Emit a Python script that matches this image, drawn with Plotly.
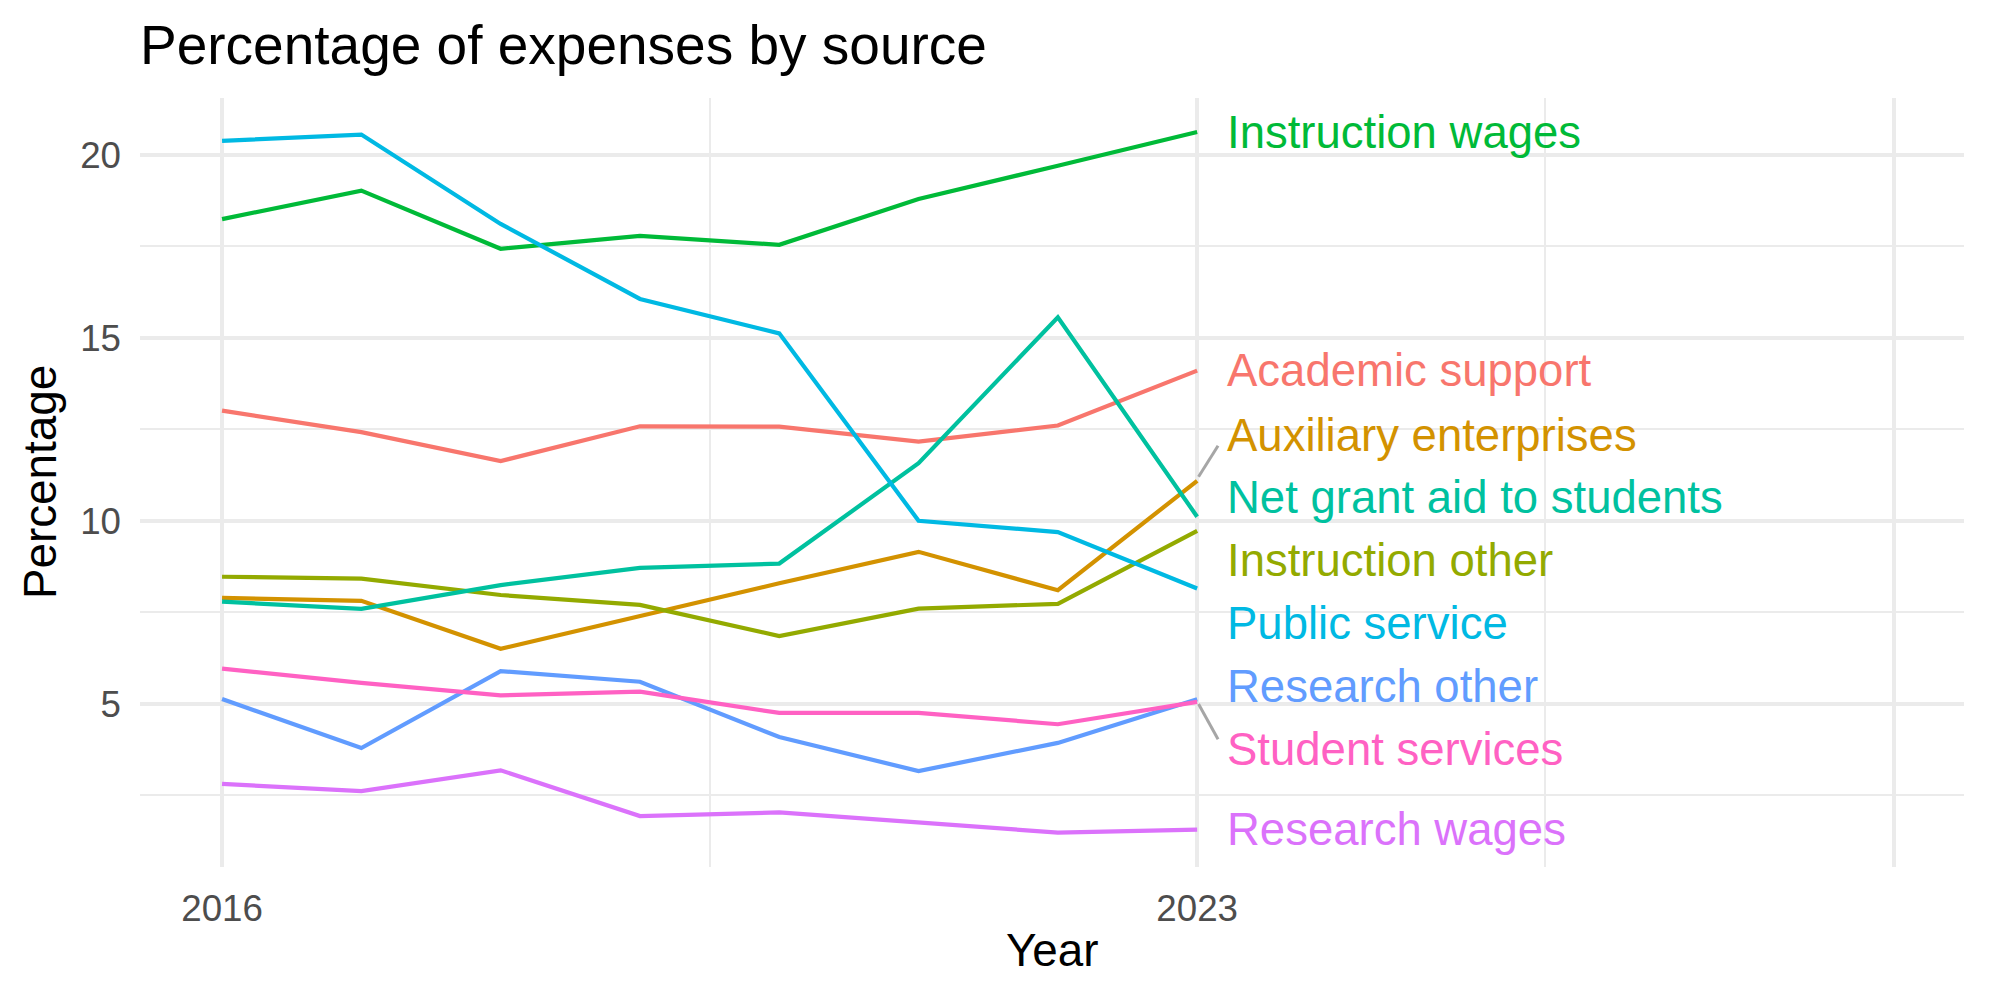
import plotly.graph_objects as go

years = [2016, 2017, 2018, 2019, 2020, 2021, 2022, 2023]

academic_support = [13.01, 12.42, 11.63, 12.58, 12.57, 12.16, 12.60, 14.10]
auxiliary_enterprises = [7.89, 7.81, 6.50, 7.40, 8.29, 9.15, 8.10, 11.09]
instruction_other = [8.47, 8.42, 7.97, 7.70, 6.85, 7.60, 7.73, 9.72]
instruction_wages = [18.24, 19.02, 17.43, 17.78, 17.54, 18.79, 19.70, 20.62]
net_grant_aid = [7.79, 7.59, 8.24, 8.71, 8.83, 11.57, 15.56, 10.11]
public_service = [20.38, 20.55, 18.11, 16.06, 15.12, 10.00, 9.69, 8.15]
research_other = [5.13, 3.79, 5.89, 5.60, 4.09, 3.16, 3.93, 5.12]
research_wages = [2.81, 2.61, 3.18, 1.93, 2.03, 1.75, 1.48, 1.56]
student_services = [5.96, 5.57, 5.23, 5.33, 4.75, 4.75, 4.44, 5.05]

series_names = ["Academic support", "Auxiliary enterprises", "Instruction other",
                "Instruction wages", "Net grant aid to students", "Public service",
                "Research other", "Research wages", "Student services"]
series_values = [academic_support, auxiliary_enterprises, instruction_other,
                 instruction_wages, net_grant_aid, public_service,
                 research_other, research_wages, student_services]
colors = ["#F8766D", "#D39200", "#93AA00", "#00BA38", "#00C19F",
          "#00B9E3", "#619CFF", "#DB72FB", "#FF61C3"]

# repelled label positions (y in data units)
label_y = [14.11, 12.34, 8.90, 20.60, 10.64, 7.18, 5.48, 1.57, 3.76]
label_x = 2023.21

# connector segments (ggrepel) for labels moved away from their line end
seg_aux_x = [2023.01, 2023.15]
seg_aux_y = [11.20, 12.05]
seg_ss_x = [2023.01, 2023.15]
seg_ss_y = [4.99, 4.03]

x_ticks = [2016, 2023, 2028]
x_ticktext = ["2016", "2023", ""]
x_minor = [2019.5, 2025.5]
y_ticks = [5, 10, 15, 20]
y_minor = [2.5, 7.5, 12.5, 17.5]

FONT = "Liberation Sans, Arial, Helvetica, sans-serif"

fig = go.Figure()

for sx, sy in [(seg_aux_x, seg_aux_y), (seg_ss_x, seg_ss_y)]:
    fig.add_trace(go.Scatter(x=sx, y=sy, mode="lines",
                             line=dict(color="#A6A6A6", width=3),
                             showlegend=False, hoverinfo="skip"))

for name, vals, col in zip(series_names, series_values, colors):
    fig.add_trace(go.Scatter(x=years, y=vals, mode="lines", name=name,
                             line=dict(color=col, width=4.2),
                             showlegend=False))

for name, ly, col in zip(series_names, label_y, colors):
    fig.add_annotation(x=label_x, y=ly, xref="x", yref="y", text=name,
                       showarrow=False, xanchor="left", yanchor="middle",
                       borderpad=0,
                       font=dict(family=FONT, size=45.5, color=col))

# axis titles
fig.add_annotation(x=0.5, y=-0.109, xref="paper", yref="paper", text="Year",
                   showarrow=False, xanchor="center", yanchor="middle",
                   font=dict(family=FONT, size=45.8, color="black"))
fig.add_annotation(x=-0.0545, y=0.5, xref="paper", yref="paper", text="Percentage",
                   showarrow=False, xanchor="center", yanchor="middle", textangle=-90,
                   font=dict(family=FONT, size=45.8, color="black"))

fig.update_layout(
    width=2000, height=1000,
    margin=dict(l=140, r=36, t=98, b=133),
    paper_bgcolor="white", plot_bgcolor="white",
    title=dict(text="Percentage of expenses by source", xref="container", yref="container",
               x=0.07, y=0.955, xanchor="left", yanchor="middle",
               font=dict(family=FONT, size=55, color="black")),
    xaxis=dict(range=[2015.411, 2028.505], tickvals=x_ticks, ticktext=x_ticktext,
               showgrid=True, gridcolor="#EBEBEB", gridwidth=4, zeroline=False,
               showline=False, ticks="", ticklabelstandoff=16,
               tickfont=dict(family=FONT, size=36.7, color="#4D4D4D"),
               minor=dict(tickvals=x_minor, showgrid=True, gridcolor="#EBEBEB", gridwidth=2, ticks="")),
    yaxis=dict(range=[0.539, 21.55], tickvals=y_ticks,
               showgrid=True, gridcolor="#EBEBEB", gridwidth=4, zeroline=False,
               showline=False, ticks="", ticklabelstandoff=18,
               tickfont=dict(family=FONT, size=36.7, color="#4D4D4D"),
               minor=dict(tickvals=y_minor, showgrid=True, gridcolor="#EBEBEB", gridwidth=2, ticks="")),
)

fig.write_html("out.html")
